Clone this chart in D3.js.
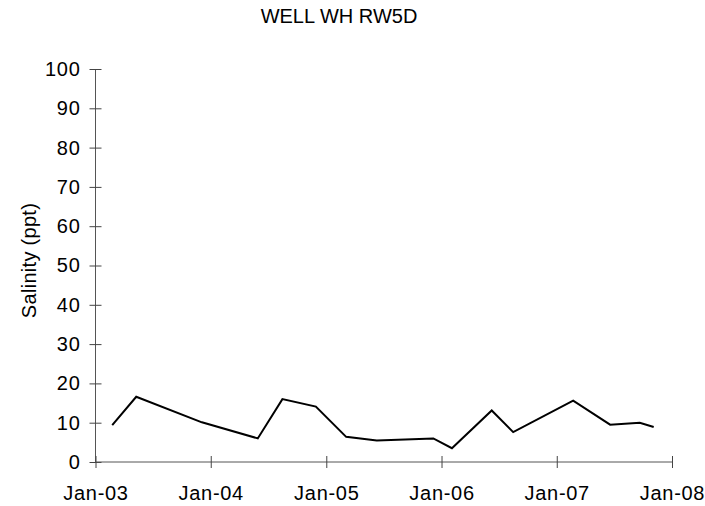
<!DOCTYPE html>
<html>
<head>
<meta charset="utf-8">
<script src="https://cdn.jsdelivr.net/npm/d3@7"></script>
<style>
  html, body { margin: 0; padding: 0; background: #fff; }
  svg { display: block; font-family: "Liberation Sans", Arial, sans-serif; }
</style>
</head>
<body>
<svg id="chart" width="705" height="506"></svg>
<script>
const title = "WELL WH RW5D";
const yLabel = "Salinity (ppt)";
const dates = ["2003-02-23","2003-05-10","2003-12-04","2004-05-29","2004-08-15","2004-11-29",
  "2005-03-05","2005-06-10","2005-12-06","2006-02-03","2006-06-09","2006-08-16",
  "2007-02-22","2007-06-19","2007-09-21","2007-11-04"];
const salinity = [9.4,16.6,10.1,6.0,16.0,14.1,6.4,5.5,6.0,3.5,13.1,7.6,15.6,9.5,10.0,8.9];
const yTicks = [0,10,20,30,40,50,60,70,80,90,100];
const xTickDates = ["2003-01-01","2004-01-01","2005-01-01","2006-01-01","2007-01-01","2008-01-01"];
const xTickLabels = ["Jan-03","Jan-04","Jan-05","Jan-06","Jan-07","Jan-08"];

const parse = d3.timeParse("%Y-%m-%d");
const data = dates.map((d, i) => ({date: parse(d), value: salinity[i]}));
const xTicks = xTickDates.map(parse);

const svg = d3.select("#chart");
const margin = {left: 95.5, right: 33, top: 69, bottom: 44};
const W = 705, H = 506;

const x = d3.scaleTime().domain([xTicks[0], xTicks[xTicks.length-1]]).range([margin.left, W - margin.right]);
const y = d3.scaleLinear().domain([0, 100]).range([H - margin.bottom, margin.top]);

svg.append("text").attr("x", 339).attr("y", 23).attr("text-anchor", "middle")
  .attr("font-size", 20).attr("fill", "#000").text(title);

// y axis
const yAxis = svg.append("g").attr("transform", `translate(${margin.left},0)`)
  .call(d3.axisLeft(y).tickValues(yTicks).tickSize(6).tickFormat(d3.format("d")));
yAxis.selectAll(".tick line").attr("x2", 6).attr("x1", -6).attr("stroke", "#444");
yAxis.select(".domain").attr("stroke", "#555").attr("d", `M0,${y(0)}V${y(100)}`);
yAxis.selectAll("text").attr("font-size", 20).attr("letter-spacing", 0.7).attr("fill", "#000").attr("x", -15);

// x axis
const xAxis = svg.append("g").attr("transform", `translate(0,${y(0)})`)
  .call(d3.axisBottom(x).tickValues(xTicks).tickSize(6).tickFormat((d, i) => xTickLabels[i]));
xAxis.selectAll(".tick line").attr("y1", -6).attr("y2", 6).attr("stroke", "#444");
xAxis.select(".domain").attr("stroke", "#555").attr("d", `M${x(xTicks[0])},0H${x(xTicks[xTicks.length-1])}`);
xAxis.selectAll("text").attr("font-size", 20).attr("letter-spacing", 0.7).attr("fill", "#000").attr("dy", 0).attr("y", 38);
svg.selectAll(".tick text").attr("font-family", "'Liberation Sans', Arial, sans-serif");

svg.append("text")
  .attr("transform", `translate(36,260.5) rotate(-90)`)
  .attr("text-anchor", "middle").attr("font-size", 20).attr("letter-spacing", 0.3).attr("fill", "#000").text(yLabel);

const line = d3.line().x(d => x(d.date)).y(d => y(d.value));
svg.append("path").datum(data).attr("d", line)
  .attr("fill", "none").attr("stroke", "#000").attr("stroke-width", 2).attr("stroke-linejoin", "miter");
</script>
</body>
</html>
